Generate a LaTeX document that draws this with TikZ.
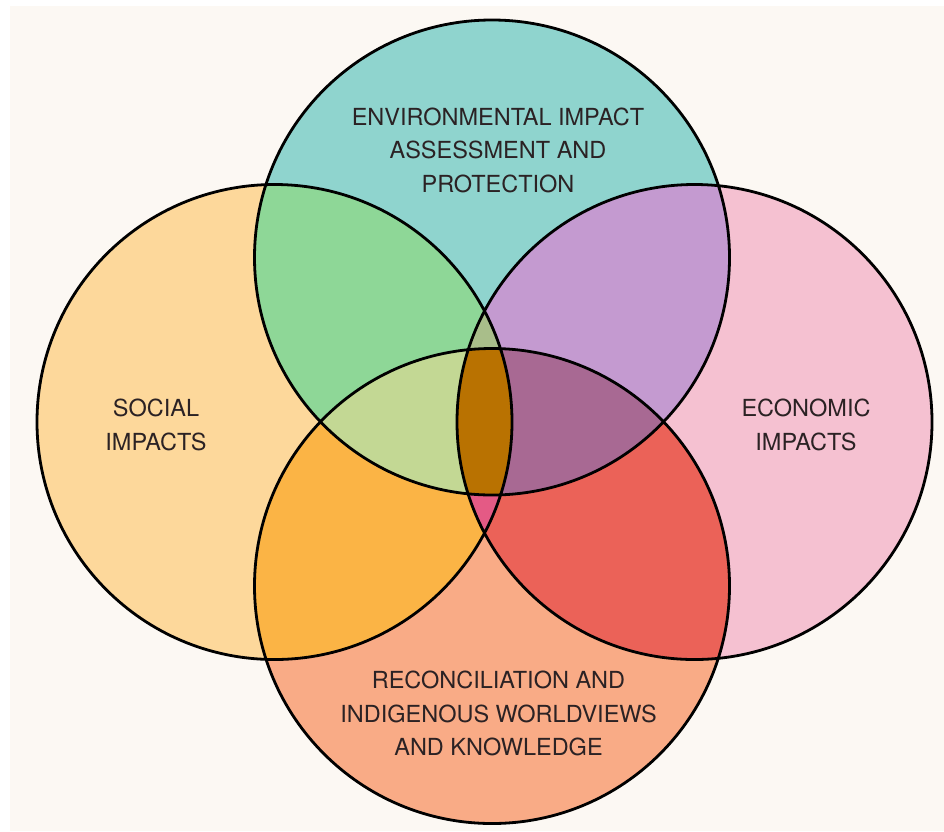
\documentclass[tikz,border=0pt]{standalone}
\usepackage{fontspec}
\setmainfont{TeX Gyre Heros}
\usepackage{tikz}

\definecolor{bgcream}{HTML}{FCF8F3}
\definecolor{inktext}{HTML}{2B2224}
\definecolor{envcol}{HTML}{8FD4CE}
\definecolor{soccol}{HTML}{FDD89B}
\definecolor{ecocol}{HTML}{F5C1D1}
\definecolor{reccol}{HTML}{F9AB86}
\definecolor{tlcol}{HTML}{8ED797}
\definecolor{trcol}{HTML}{C49AD0}
\definecolor{lbcol}{HTML}{FBB445}
\definecolor{rbcol}{HTML}{EB6258}
\definecolor{tlbcol}{HTML}{C3D894}
\definecolor{trbcol}{HTML}{A86993}
\definecolor{tlrcol}{HTML}{A9BE8A}
\definecolor{lrbcol}{HTML}{E45A85}
\definecolor{allcol}{HTML}{B97201}

\newcommand{\vennr}{237.5pt}

\begin{document}
\begin{tikzpicture}[
  x=1pt, y=-1pt,
  ring/.style={draw=black,line width=2.8pt},
  vennlabel/.style={align=center,text=inktext,inner sep=0pt,
    font=\fontsize{23.5}{33.5}\selectfont}
]

\useasboundingbox (0,0) rectangle (944,831);
\fill[white] (0,0) rectangle (944,831);
\fill[bgcream] (10,6) rectangle (944,831);

\coordinate (env) at (492,257.5);
\coordinate (soc) at (274.5,422);
\coordinate (eco) at (694.5,422);
\coordinate (rec) at (492,586);

% single circles
\fill[envcol] (env) circle[radius=\vennr];
\fill[soccol] (soc) circle[radius=\vennr];
\fill[ecocol] (eco) circle[radius=\vennr];
\fill[reccol] (rec) circle[radius=\vennr];

% pairs
\begin{scope}
  \clip (env) circle[radius=\vennr];
  \fill[tlcol] (soc) circle[radius=\vennr];
  \fill[trcol] (eco) circle[radius=\vennr];
\end{scope}
\begin{scope}
  \clip (rec) circle[radius=\vennr];
  \fill[lbcol] (soc) circle[radius=\vennr];
  \fill[rbcol] (eco) circle[radius=\vennr];
\end{scope}

% triples
\begin{scope}
  \clip (env) circle[radius=\vennr];
  \clip (soc) circle[radius=\vennr];
  \fill[tlbcol] (rec) circle[radius=\vennr];
  \fill[tlrcol] (eco) circle[radius=\vennr];
\end{scope}
\begin{scope}
  \clip (env) circle[radius=\vennr];
  \clip (eco) circle[radius=\vennr];
  \fill[trbcol] (rec) circle[radius=\vennr];
\end{scope}
\begin{scope}
  \clip (rec) circle[radius=\vennr];
  \clip (soc) circle[radius=\vennr];
  \fill[lrbcol] (eco) circle[radius=\vennr];
\end{scope}

% all four
\begin{scope}
  \clip (env) circle[radius=\vennr];
  \clip (soc) circle[radius=\vennr];
  \clip (eco) circle[radius=\vennr];
  \fill[allcol] (rec) circle[radius=\vennr];
\end{scope}

% outlines
\path[ring] (env) circle[radius=\vennr]
  (soc) circle[radius=\vennr]
  (eco) circle[radius=\vennr]
  (rec) circle[radius=\vennr];

\node[vennlabel] (envtext) at (498,150) {ENVIRONMENTAL IMPACT\\ASSESSMENT AND\\PROTECTION};
\node[vennlabel] (soctext) at (156,425) {SOCIAL\\IMPACTS};
\node[vennlabel] (ecotext) at (806,425) {ECONOMIC\\IMPACTS};
\node[vennlabel] (rectext) at (498.5,713.5) {RECONCILIATION AND\\INDIGENOUS WORLDVIEWS\\AND KNOWLEDGE};

\end{tikzpicture}
\end{document}
